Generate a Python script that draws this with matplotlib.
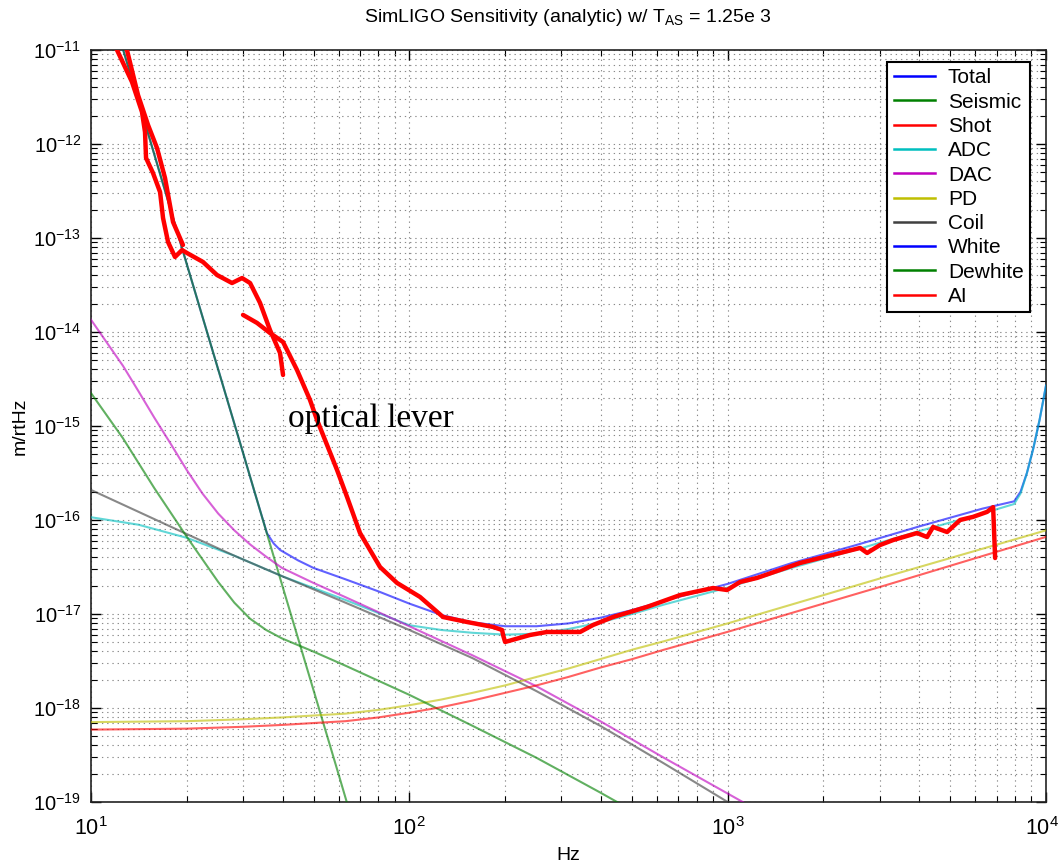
import matplotlib
matplotlib.use('Agg')
import matplotlib.pyplot as plt
import matplotlib.transforms as mtransforms
from matplotlib.lines import Line2D
from matplotlib.ticker import NullFormatter, FixedLocator

plt.rcParams['font.family'] = ['Liberation Sans', 'DejaVu Sans']
plt.rcParams['mathtext.fontset'] = 'custom'
plt.rcParams['mathtext.rm'] = 'Liberation Sans'
plt.rcParams['mathtext.it'] = 'Liberation Sans:italic'
plt.rcParams['axes.unicode_minus'] = False

# ---------------- data (Hz, m/rtHz) ----------------
total_f = [10, 15, 20, 25, 30, 32.5, 35.7, 37.5, 39.3, 44.7, 50, 63, 80, 100, 126, 158, 200, 251,
           316, 398, 501, 631, 1000, 1585, 2512, 3981, 6310, 7943, 8318, 8710, 9120, 9550, 10000]
total_a = [1.41e-10, 1.41e-12, 5.25e-14, 4.17e-15, 5.25e-16, 2.09e-16, 7.24e-17, 5.62e-17, 4.79e-17,
           3.72e-17, 3.09e-17, 2.34e-17, 1.74e-17, 1.29e-17, 9.77e-18, 8.13e-18, 7.41e-18, 7.41e-18,
           7.94e-18, 9.12e-18, 1.10e-17, 1.38e-17, 2.09e-17, 3.47e-17, 5.37e-17, 8.51e-17, 1.32e-16,
           1.58e-16, 2.0e-16, 3.16e-16, 5.75e-16, 1.17e-15, 2.69e-15]

seismic_f = [10, 15, 20, 25, 30, 40, 50, 60, 70]
seismic_a = [1.41e-10, 1.41e-12, 5.25e-14, 4.17e-15, 5.25e-16, 1.95e-17, 1.55e-18, 1.95e-19, 3.31e-20]

shot_f = []
shot_a = []

adc_f = [10, 14.1, 20, 28.2, 40, 63, 100, 126, 158, 200, 251, 316, 398, 501, 631, 1000, 1585, 2512,
         3981, 6310, 7943, 8318, 8710, 9120, 9550, 10000]
adc_a = [1.07e-16, 8.91e-17, 6.46e-17, 4.17e-17, 2.51e-17, 1.41e-17, 7.59e-18, 6.76e-18, 6.31e-18,
         6.03e-18, 6.17e-18, 6.92e-18, 8.13e-18, 1.0e-17, 1.26e-17, 1.91e-17, 3.09e-17, 4.79e-17,
         7.59e-17, 1.17e-16, 1.48e-16, 1.91e-16, 3.16e-16, 5.75e-16, 1.17e-15, 2.69e-15]

dac_f = [10, 11.2, 12.6, 14.1, 15.8, 17.8, 20, 22.4, 25.1, 28.2, 31.6, 35.5, 39.8, 50, 63, 100, 158,
         251, 398, 631, 1000, 1259]
dac_a = [1.35e-14, 7.76e-15, 4.37e-15, 2.34e-15, 1.23e-15, 6.46e-16, 3.39e-16, 1.91e-16, 1.17e-16,
         7.76e-17, 5.50e-17, 4.07e-17, 3.09e-17, 2.14e-17, 1.51e-17, 7.41e-18, 3.63e-18, 1.70e-18,
         7.24e-19, 2.95e-19, 1.23e-19, 7.94e-20]

pd_f = [10, 20, 30, 40, 50, 63, 80, 100, 126, 158, 200, 251, 316, 398, 501, 631, 1000, 3162, 10000]
pd_a = [7.08e-19, 7.24e-19, 7.59e-19, 7.94e-19, 8.32e-19, 8.71e-19, 9.55e-19, 1.07e-18, 1.23e-18,
        1.45e-18, 1.74e-18, 2.14e-18, 2.63e-18, 3.31e-18, 4.17e-18, 5.13e-18, 7.94e-18, 2.51e-17,
        7.76e-17]

coil_f = [10, 20, 28.2, 40, 63, 100, 158, 251, 398, 631, 1000, 1259]
coil_a = [2.09e-16, 7.08e-17, 4.17e-17, 2.51e-17, 1.32e-17, 6.76e-18, 3.39e-18, 1.51e-18, 6.46e-19,
          2.57e-19, 1.0e-19, 6.46e-20]

white_f = []
white_a = []

dewhite_f = [10, 12.6, 15.8, 20, 25.1, 28.2, 31.6, 35.5, 39.8, 50, 63, 100, 158, 251, 398, 501]
dewhite_a = [2.24e-15, 7.41e-16, 2.19e-16, 6.61e-17, 2.19e-17, 1.32e-17, 8.91e-18, 6.76e-18,
             5.50e-18, 3.98e-18, 2.82e-18, 1.38e-18, 6.46e-19, 2.95e-19, 1.26e-19, 8.13e-20]

ai_f = [10, 20, 30, 40, 50, 63, 80, 100, 126, 158, 200, 251, 316, 398, 501, 631, 1000, 3162, 10000]
ai_a = [5.89e-19, 6.03e-19, 6.31e-19, 6.61e-19, 6.92e-19, 7.24e-19, 7.94e-19, 8.91e-19, 1.02e-18,
        1.20e-18, 1.45e-18, 1.74e-18, 2.14e-18, 2.69e-18, 3.31e-18, 4.17e-18, 6.46e-18, 2.04e-17,
        6.61e-17]

# measured optical lever traces
olev1_f = [11.6, 12.07, 13.45, 14.46, 14.78, 14.89, 15.66, 16.48, 16.84, 17.46, 18.36, 19.32, 20.03,
           22.48, 24.88, 27.73, 29.82, 31.60, 33.96, 36.50, 39.25, 40.11]
olev1_a = [1.44e-11, 1.0e-11, 4.57e-12, 2.19e-12, 1.34e-12, 7.10e-13, 4.91e-13, 3.08e-13, 1.63e-13,
           9.06e-14, 6.28e-14, 7.45e-14, 6.92e-14, 5.56e-14, 4.04e-14, 3.32e-14, 3.75e-14, 3.32e-14,
           2.04e-14, 1.05e-14, 5.98e-15, 3.49e-15]

olev2_f = [12.0, 12.97, 14.05, 15.11, 16.12, 17.08, 18.10, 19.45]
olev2_a = [1.5e-11, 1.0e-11, 3.32e-12, 1.59e-12, 9.06e-13, 4.35e-13, 1.48e-13, 8.43e-14]

olev3_f = [30.03, 33.22, 36.50, 40.11, 44.38, 48.75, 51.29, 59.29, 63.72, 69.99, 80.91, 91.49, 108.0,
           127.6, 151.8, 183.3, 195.6, 197.0, 199.9, 239.4, 270.8, 343.9, 377.7, 436.5, 558.2, 708.8,
           899.7, 995.6, 1094, 1237, 1689, 2255, 2606, 2742, 3012, 3310, 3937, 4231, 4419, 4890,
           5373, 5902, 6531, 6822, 6921]
olev3_a = [1.52e-14, 1.25e-14, 9.76e-15, 7.83e-15, 3.94e-15, 1.89e-15, 1.16e-15, 3.40e-16, 1.76e-16,
           7.27e-17, 3.16e-17, 2.14e-17, 1.52e-17, 9.29e-18, 8.22e-18, 7.28e-18, 6.76e-18, 5.98e-18,
           5.04e-18, 5.98e-18, 6.44e-18, 6.44e-18, 7.64e-18, 9.29e-18, 1.19e-17, 1.59e-17, 1.89e-17,
           1.80e-17, 2.19e-17, 2.42e-17, 3.49e-17, 4.46e-17, 5.04e-17, 4.46e-17, 5.42e-17, 6.12e-17,
           7.27e-17, 6.59e-17, 8.43e-17, 7.45e-17, 1.0e-16, 1.08e-16, 1.22e-16, 1.37e-16, 3.94e-17]

labels = ['Total', 'Seismic', 'Shot', 'ADC', 'DAC', 'PD', 'Coil', 'White', 'Dewhite', 'AI']
colors = ['#0000ff', '#008000', '#ff0000', '#00bfbf', '#bf00bf', '#bfbf00', '#404040',
          '#0000ff', '#008000', '#ff0000']

series = [(total_f, total_a), (seismic_f, seismic_a), (shot_f, shot_a), (adc_f, adc_a),
          (dac_f, dac_a), (pd_f, pd_a), (coil_f, coil_a), (white_f, white_a),
          (dewhite_f, dewhite_a), (ai_f, ai_a)]

xticks = [1e1, 1e2, 1e3, 1e4]
xticklabels = [r'$\mathregular{10^{1}}$', r'$\mathregular{10^{2}}$', r'$\mathregular{10^{3}}$',
               r'$\mathregular{10^{4}}$']
yticks = [1e-19, 1e-18, 1e-17, 1e-16, 1e-15, 1e-14, 1e-13, 1e-12, 1e-11]
yticklabels = [r'$\mathregular{10^{-%d}}$' % n for n in range(19, 10, -1)]

# ---------------- figure ----------------
W, H = 1061, 868
fig = plt.figure(figsize=(W / 100, H / 100), dpi=100)
ax = fig.add_axes([91 / W, 1 - 802 / H, 955 / W, 752 / H])
ax.set_xscale('log')
ax.set_yscale('log')

for (f, a), c in zip(series, colors):
    ax.plot(f, a, color=c, lw=1.5, alpha=0.62, zorder=3)

for f, a in [(olev1_f, olev1_a), (olev2_f, olev2_a), (olev3_f, olev3_a)]:
    ax.plot(f, a, color='#ff0000', lw=3.2, solid_joinstyle='round', solid_capstyle='round', zorder=4)

ax.set_xlim(10, 1e4)
ax.set_ylim(1e-19, 1e-11)

ax.xaxis.set_major_locator(FixedLocator(xticks))
ax.yaxis.set_major_locator(FixedLocator(yticks))
ax.set_xticklabels(xticklabels)
ax.set_yticklabels(yticklabels)
ax.xaxis.set_minor_locator(FixedLocator([m * 10 ** e for e in range(1, 4) for m in range(2, 10)]))
ax.yaxis.set_minor_locator(FixedLocator([m * 10.0 ** e for e in range(-19, -11) for m in range(2, 10)]))
ax.xaxis.set_minor_formatter(NullFormatter())
ax.yaxis.set_minor_formatter(NullFormatter())

ax.grid(True, which='both', color='#8a8a8a', linestyle=(0, (1.2, 3.5)), lw=0.8, zorder=1)
ax.tick_params(which='both', direction='in', top=True, right=True)
ax.tick_params(axis='x', labelsize=15.5, pad=11)
ax.tick_params(axis='y', labelsize=14.5, pad=7)
ax.tick_params(which='major', length=7, width=1)
ax.tick_params(which='minor', length=4, width=0.8)
for s in ax.spines.values():
    s.set_linewidth(1.2)
    s.set_color('#222222')

# keep the last x tick label inside the figure
last = ax.get_xticklabels()[-1]
last.set_transform(last.get_transform() + mtransforms.ScaledTranslation(-4 / 100, 0, fig.dpi_scale_trans))

ax.text(41.6, 9.8e-16, 'optical lever', family=['Liberation Serif', 'DejaVu Serif'], fontsize=24,
        va='baseline', ha='left', zorder=5)

handles = [Line2D([], [], color=c, lw=1.8) for c in colors]
leg = ax.legend(handles, labels, loc='upper right', bbox_to_anchor=(0.983, 0.984), fontsize=15,
                frameon=True, fancybox=False, handlelength=2.0, handletextpad=0.6,
                labelspacing=0.255, borderpad=0.3, borderaxespad=0)
leg.get_frame().set_edgecolor('black')
leg.get_frame().set_linewidth(1.5)
leg.get_frame().set_alpha(1)
leg.set_zorder(6)

fig.text(568 / W, 1 - 22 / H, r'SimLIGO Sensitivity (analytic) w/ T$_{\mathregular{AS}}$ = 1.25e 3',
         ha='center', va='baseline', fontsize=14)
fig.text(568 / W, 1 - 855 / H, 'Hz', ha='center', va='center', fontsize=14)
fig.text(20 / W, 1 - 426 / H, 'm/rtHz', ha='center', va='center', rotation=90, fontsize=14)

fig.savefig('out.png', dpi=100)
